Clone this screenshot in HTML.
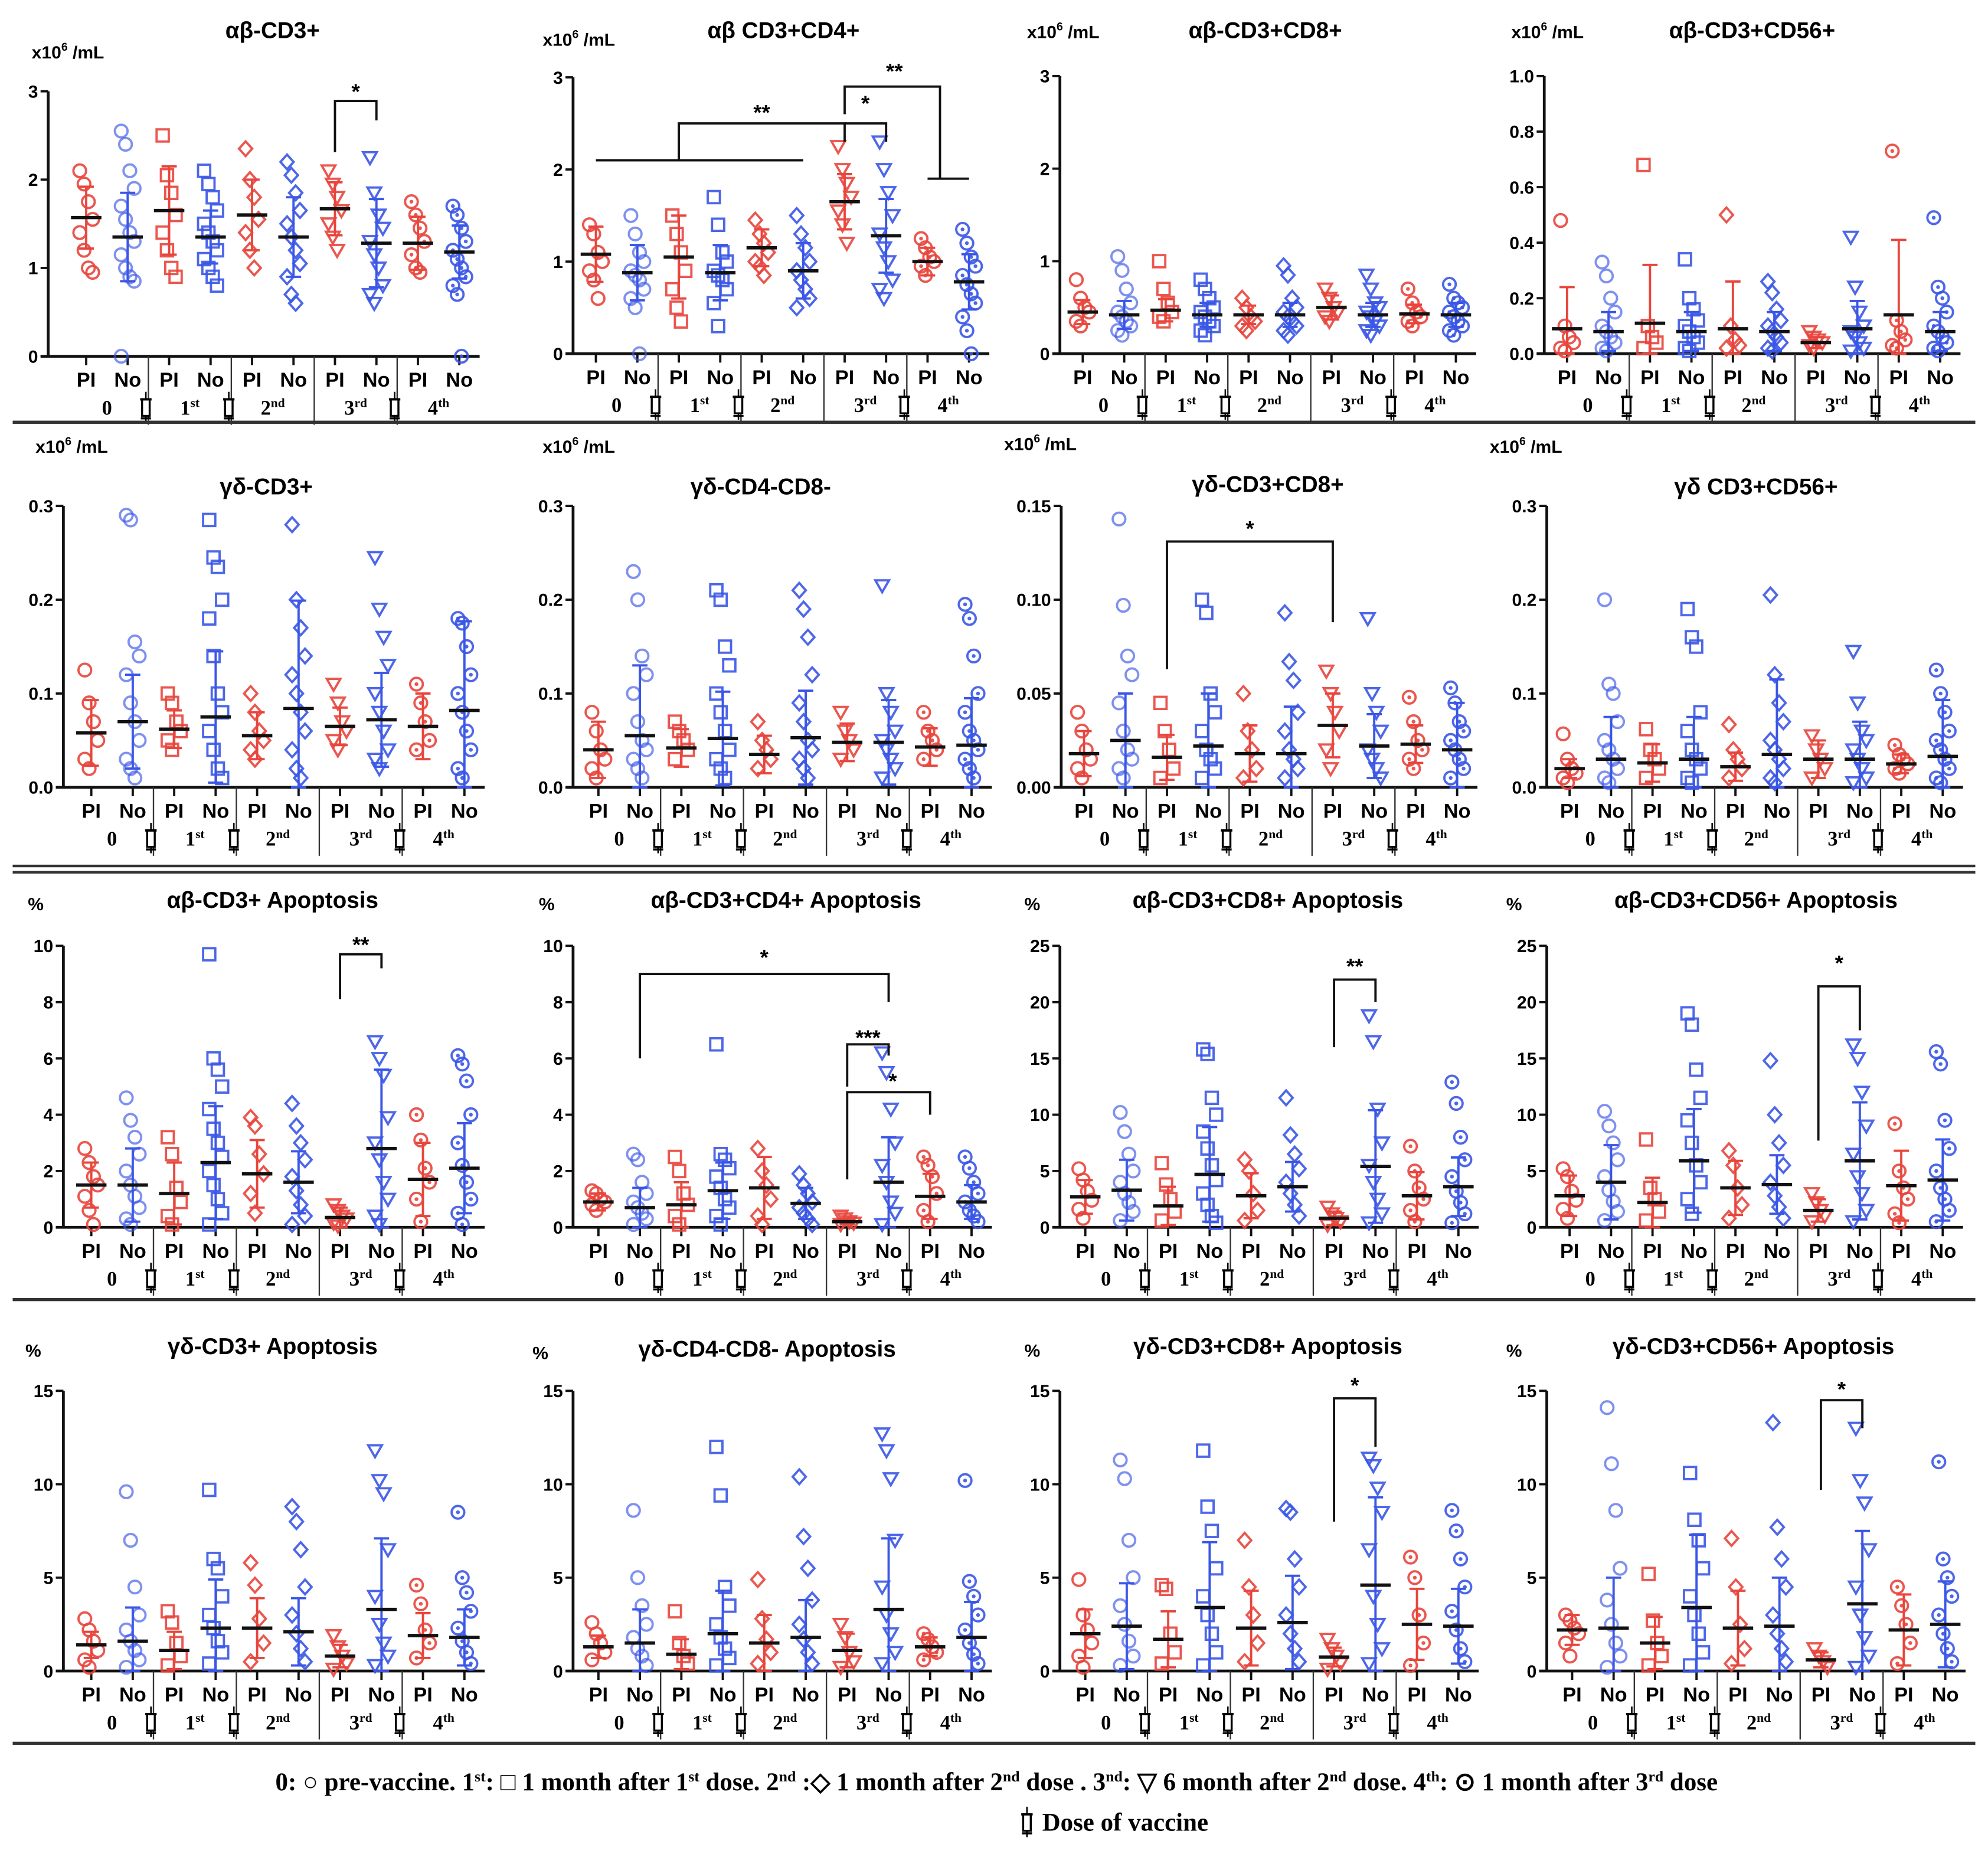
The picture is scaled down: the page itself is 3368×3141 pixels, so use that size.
<!DOCTYPE html>
<html><head><meta charset="utf-8">
<style>
html,body{margin:0;padding:0;background:#fff;}
svg{display:block;}
text{font-family:"Liberation Sans",sans-serif;}
.serif{font-family:"Liberation Serif",serif;}
</style></head>
<body>
<svg id="fig" width="3368" height="3141" viewBox="0 0 1568 1462.3" preserveAspectRatio="none" xmlns="http://www.w3.org/2000/svg"></svg>
<script>
const categories = ['PI','No','PI','No','PI','No','PI','No','PI','No'];
const groupLabels = ['0','1','2','3','4'];
const groupSups = ['','st','nd','rd','th'];

const p1Mean=[1.57,1.35,1.65,1.35,1.6,1.35,1.67,1.28,1.28,1.18];
const p1Sd=[.35,.5,.5,.3,.4,.45,.3,.5,.3,.3];
const p1Pts=[[2.1,1.95,1.75,1.55,1.4,1.2,1.0,0.95],[2.55,2.4,2.1,1.9,1.7,1.55,1.4,1.3,1.15,1.0,0.9,0.85,0],[2.5,2.05,1.85,1.6,1.4,1.2,1.0,0.9],[2.1,1.95,1.8,1.65,1.5,1.4,1.3,1.2,1.1,1.0,0.9,0.8],[2.35,2.0,1.8,1.55,1.4,1.2,1.0],[2.2,2.05,1.85,1.65,1.5,1.35,1.2,1.05,0.9,0.7,0.6],[2.1,1.95,1.8,1.65,1.5,1.35,1.2],[2.25,1.85,1.6,1.45,1.3,1.15,1.0,0.8,0.7,0.6],[1.75,1.6,1.45,1.3,1.15,1.0,0.95],[1.7,1.6,1.45,1.3,1.2,1.1,1.0,0.9,0.8,0.7,0]];
const p2Mean=[1.08,.88,1.05,.88,1.15,.9,1.65,1.28,1.0,.78];
const p2Sd=[.3,.3,.45,.3,.2,.3,.3,.4,.15,.3];
const p2Pts=[[1.4,1.3,1.1,1.0,0.9,0.8,0.6],[1.5,1.3,1.1,1.0,0.9,0.85,0.8,0.7,0.6,0.5,0],[1.5,1.3,1.1,0.9,0.7,0.5,0.35],[1.7,1.4,1.1,1.0,0.9,0.85,0.8,0.7,0.55,0.3],[1.45,1.3,1.2,1.1,1.0,0.95,0.85],[1.5,1.3,1.15,1.0,0.9,0.8,0.7,0.6,0.5],[2.25,2.0,1.85,1.7,1.55,1.4,1.2],[2.3,2.0,1.75,1.5,1.3,1.15,1.0,0.8,0.7,0.6],[1.25,1.15,1.05,1.0,0.95,0.85],[1.35,1.2,1.05,0.95,0.85,0.75,0.65,0.55,0.4,0.25,0]];
const p3Mean=[.45,.42,.47,.42,.42,.42,.5,.42,.43,.42];
const p3Sd=[.13,.15,.12,.13,.1,.13,.13,.13,.1,.13];
const p3Pts=[[0.8,0.6,0.5,0.45,0.35,0.3],[1.05,0.9,0.7,0.55,0.45,0.4,0.35,0.3,0.25,0.2],[1.0,0.7,0.55,0.45,0.4,0.35],[0.8,0.7,0.6,0.5,0.45,0.4,0.35,0.3,0.25,0.2],[0.6,0.5,0.4,0.35,0.3,0.25],[0.95,0.85,0.6,0.5,0.45,0.4,0.35,0.3,0.25,0.2],[0.7,0.6,0.5,0.45,0.4,0.35],[0.85,0.7,0.55,0.5,0.45,0.4,0.35,0.3,0.25,0.2],[0.7,0.55,0.45,0.4,0.35,0.3],[0.75,0.6,0.55,0.5,0.45,0.4,0.35,0.3,0.25,0.2]];
const p4Mean=[.09,.08,.11,.08,.09,.08,.04,.09,.14,.08];
const p4Sd=[.15,.07,.21,.07,.17,.07,.02,.1,.27,.07];
const p4Pts=[[0.48,0.1,0.06,0.04,0.02,0.01],[0.33,0.28,0.2,0.15,0.1,0.08,0.06,0.04,0.02,0.01],[0.68,0.1,0.06,0.04,0.02],[0.34,0.2,0.16,0.12,0.1,0.08,0.06,0.04,0.02,0.01],[0.5,0.1,0.05,0.03,0.02],[0.26,0.22,0.16,0.12,0.1,0.08,0.06,0.04,0.02,0.01],[0.08,0.06,0.05,0.04,0.03,0.02],[0.42,0.24,0.15,0.1,0.08,0.06,0.04,0.02,0.01],[0.73,0.12,0.08,0.05,0.03,0.02],[0.49,0.24,0.2,0.15,0.1,0.08,0.06,0.04,0.02,0.01]];
const p5Mean=[.058,.07,.062,.075,.055,.084,.065,.072,.065,.082];
const p5Sd=[.035,.05,.02,.07,.025,.115,.02,.05,.035,.095];
const p5Pts=[[0.125,0.09,0.07,0.05,0.03,0.02],[0.29,0.285,0.155,0.14,0.12,0.09,0.07,0.05,0.03,0.02,0.01],[0.1,0.09,0.07,0.06,0.05,0.04],[0.285,0.245,0.235,0.2,0.18,0.14,0.1,0.08,0.06,0.04,0.02,0.01],[0.1,0.08,0.06,0.05,0.04,0.03],[0.28,0.2,0.17,0.14,0.12,0.1,0.08,0.06,0.04,0.02,0.01],[0.11,0.09,0.07,0.06,0.05,0.04],[0.245,0.19,0.16,0.13,0.1,0.08,0.06,0.04,0.03,0.02],[0.11,0.09,0.07,0.05,0.04],[0.18,0.175,0.15,0.12,0.1,0.08,0.06,0.04,0.02,0.01]];
const p6Mean=[.04,.055,.042,.052,.035,.053,.048,.048,.043,.045];
const p6Sd=[.03,.075,.02,.05,.02,.05,.02,.045,.02,.05];
const p6Pts=[[0.08,0.06,0.04,0.03,0.02,0.01],[0.23,0.2,0.14,0.12,0.1,0.07,0.05,0.04,0.03,0.02,0.01],[0.07,0.06,0.05,0.04,0.03],[0.21,0.2,0.15,0.13,0.1,0.08,0.06,0.04,0.03,0.02,0.01],[0.07,0.05,0.04,0.03,0.02],[0.21,0.19,0.16,0.12,0.09,0.07,0.05,0.04,0.03,0.02,0.01],[0.08,0.06,0.05,0.04,0.03],[0.215,0.1,0.08,0.06,0.05,0.04,0.03,0.02,0.01],[0.08,0.06,0.05,0.04,0.03],[0.195,0.18,0.14,0.1,0.08,0.06,0.05,0.04,0.03,0.02,0.01]];
const p7Mean=[.018,.025,.016,.022,.018,.018,.033,.022,.023,.02];
const p7Sd=[.012,.025,.012,.028,.015,.025,.017,.017,.01,.025];
const p7Pts=[[0.04,0.03,0.02,0.015,0.01,0.005],[0.143,0.097,0.07,0.06,0.045,0.03,0.02,0.015,0.01,0.005],[0.045,0.03,0.02,0.01,0.005],[0.1,0.093,0.05,0.04,0.03,0.02,0.015,0.01,0.005],[0.05,0.03,0.02,0.01,0.005],[0.093,0.067,0.057,0.04,0.03,0.02,0.015,0.01,0.005],[0.062,0.05,0.04,0.03,0.02,0.01],[0.09,0.05,0.04,0.03,0.02,0.015,0.01,0.005],[0.048,0.035,0.025,0.02,0.015,0.01],[0.053,0.045,0.035,0.03,0.025,0.02,0.015,0.01,0.005]];
const p8Mean=[.02,.03,.026,.03,.022,.035,.03,.03,.025,.033];
const p8Sd=[.01,.045,.02,.045,.015,.08,.02,.04,.01,.06];
const p8Pts=[[0.057,0.03,0.02,0.015,0.01,0.005],[0.2,0.11,0.1,0.07,0.05,0.04,0.03,0.02,0.01,0.005],[0.062,0.04,0.03,0.02,0.01],[0.19,0.16,0.15,0.08,0.06,0.04,0.03,0.02,0.01,0.005],[0.067,0.04,0.03,0.02,0.01],[0.205,0.12,0.09,0.07,0.05,0.04,0.03,0.02,0.01,0.005],[0.055,0.04,0.03,0.02,0.01],[0.145,0.09,0.06,0.05,0.04,0.03,0.02,0.01,0.005],[0.045,0.035,0.03,0.025,0.02,0.015],[0.125,0.1,0.08,0.06,0.05,0.04,0.03,0.02,0.01,0.005]];
const p9Mean=[1.5,1.5,1.2,2.3,1.9,1.6,.35,2.8,1.7,2.1];
const p9Sd=[.8,1.3,1.1,2.0,1.2,1.1,.35,2.8,1.3,1.6];
const p9Pts=[[2.8,2.3,1.8,1.5,1.1,0.6,0.1],[4.6,3.8,3.2,2.6,2.0,1.5,1.1,0.7,0.3,0.1],[3.2,2.6,1.4,0.9,0.4,0.1],[9.7,6.0,5.6,5.0,4.2,3.5,3.0,2.5,2.0,1.5,1.0,0.5,0.1],[3.9,3.6,2.6,1.9,1.2,0.5],[4.4,3.6,3.0,2.4,1.8,1.3,0.8,0.4,0.1],[0.8,0.6,0.4,0.3,0.15,0.05],[6.6,6.0,5.4,3.9,3.0,2.4,1.6,1.0,0.4,0.1],[4.0,3.1,2.1,1.6,1.0,0.2],[6.1,5.8,5.2,4.0,3.0,2.2,1.6,1.0,0.5,0.1]];
const p10Mean=[.9,.7,.8,1.3,1.4,.85,.2,1.6,1.1,.9];
const p10Sd=[.3,.7,.8,1.0,1.1,.55,.1,1.6,.8,.6];
const p10Pts=[[1.3,1.2,1.0,0.9,0.8,0.6],[2.6,2.4,1.6,1.2,0.9,0.7,0.5,0.3,0.1],[2.5,2.0,1.2,0.8,0.4,0.1],[6.5,2.6,2.4,2.1,1.8,1.4,1.0,0.7,0.4,0.1],[2.8,2.0,1.5,1.0,0.4,0.1],[1.9,1.5,1.2,0.9,0.7,0.5,0.3,0.1],[0.4,0.3,0.2,0.15,0.1],[6.2,5.5,4.2,3.0,2.2,1.6,0.9,0.5,0.1],[2.5,2.2,1.8,1.2,0.6,0.2],[2.5,2.1,1.6,1.2,0.9,0.6,0.4,0.2]];
const p11Mean=[2.7,3.3,1.9,4.7,2.8,3.6,.8,5.4,2.8,3.6];
const p11Sd=[1.5,2.7,1.7,4.2,2.0,2.2,.6,5.0,2.1,2.6];
const p11Pts=[[5.2,4.2,3.2,2.4,1.6,0.8],[10.2,8.5,6.5,5.0,4.0,3.0,2.2,1.4,0.6],[5.7,3.8,2.5,1.4,0.6],[15.8,15.4,11.5,10,8.5,7,5.5,4.2,3,2,1,0.4],[6.0,5.0,3.0,1.5,0.6],[11.5,8.2,6.5,5.2,4.0,3.0,2.0,1.0],[1.8,1.2,0.8,0.5,0.2],[18.8,16.5,10.5,7.5,5.5,4.0,2.5,1.2,0.4],[7.2,5.0,3.5,2.5,1.5,0.5],[12.9,11.0,8.0,6.0,4.5,3.2,2.2,1.2,0.4]];
const p12Mean=[2.8,4.0,2.2,5.9,3.5,3.8,1.5,5.9,3.7,4.2];
const p12Sd=[1.8,3.3,2.2,4.6,2.4,2.6,1.0,5.2,3.1,3.6];
const p12Pts=[[5.2,4.5,3.2,2.4,1.6,0.8],[10.3,9.0,7.5,6.0,4.5,3.3,2.3,1.4,0.6],[7.8,3.5,2.5,1.4,0.6],[19.0,18.0,14.0,11.5,9.5,7.5,5.5,4.0,2.5,1.2],[6.8,5.5,3.5,2.0,0.8],[14.8,10.0,7.5,5.5,4.0,2.8,1.8,0.8],[3.0,2.2,1.5,1.0,0.5],[16.2,15.0,12.0,9.0,6.5,4.5,3.0,1.5,0.5],[9.2,5.0,3.5,2.5,1.2,0.4],[15.6,14.5,9.5,7.0,5.0,3.5,2.5,1.5,0.5]];
const p13Mean=[1.4,1.6,1.1,2.3,2.3,2.1,.8,3.3,1.9,1.8];
const p13Sd=[.7,1.8,1.0,2.6,1.6,1.8,.6,3.8,1.2,1.5];
const p13Pts=[[2.8,2.2,1.6,1.1,0.6,0.2],[9.6,7.0,4.5,3.0,2.2,1.6,1.1,0.6,0.2],[3.2,2.6,1.5,0.8,0.3],[9.7,6.0,5.5,4.0,3.0,2.3,1.6,1.0,0.4],[5.8,4.6,2.8,1.5,0.5],[8.8,8.0,6.5,4.5,3.0,2.0,1.2,0.5],[1.9,1.3,0.8,0.4,0.1],[11.8,10.2,9.5,6.5,4.0,2.5,1.5,0.8,0.3],[4.6,3.6,2.2,1.5,0.7],[8.5,5.0,4.2,3.2,2.3,1.6,1.0,0.4]];
const p14Mean=[1.3,1.5,.9,2.0,1.5,1.8,1.1,3.3,1.3,1.8];
const p14Sd=[.6,1.8,.8,2.3,1.5,2.0,.9,3.8,.5,1.9];
const p14Pts=[[2.6,2.0,1.5,1.0,0.6],[8.6,5.0,3.5,2.5,1.8,1.2,0.8,0.3],[3.2,1.5,0.8,0.4],[12.0,9.4,4.5,3.5,2.5,1.8,1.2,0.7,0.3],[4.9,2.8,1.7,1.0,0.4],[10.4,7.2,5.5,3.8,2.5,1.7,1.0,0.4],[2.5,1.8,1.0,0.5,0.2],[12.7,11.8,10.3,7.0,4.5,3.0,2.0,1.0,0.4],[2.0,1.7,1.3,1.0,0.6],[10.2,4.8,4.0,3.0,2.2,1.5,0.9,0.4]];
const p15Mean=[2.0,2.4,1.7,3.4,2.3,2.6,.75,4.6,2.5,2.4];
const p15Sd=[1.3,2.3,1.5,3.5,2.0,2.5,.5,4.7,1.9,2.0];
const p15Pts=[[4.9,3.0,2.2,1.5,0.8,0.2],[11.3,10.3,7.0,5.0,3.5,2.5,1.6,0.8,0.3],[4.6,4.4,2.0,1.0,0.4],[11.8,8.8,7.5,5.5,4.0,3.0,2.0,1.0,0.3],[7.0,4.5,3.0,1.5,0.5],[8.7,8.5,6.0,4.5,3.0,2.0,1.2,0.5],[1.7,1.2,0.8,0.4,0.1],[11.4,11.0,9.8,8.5,6.5,4.0,2.5,1.2,0.4],[6.1,5.0,3.0,1.5,0.3],[8.6,7.5,6.0,4.5,3.2,2.2,1.2,0.5]];
const p16Mean=[2.2,2.3,1.5,3.4,2.3,2.4,.6,3.6,2.2,2.5];
const p16Sd=[.8,2.7,1.4,3.9,2.0,2.6,.4,3.9,1.9,2.3];
const p16Pts=[[3.0,2.7,2.3,2.0,1.5,0.8],[14.1,11.1,8.6,5.5,3.8,2.5,1.5,0.8,0.2],[5.2,2.7,1.5,0.8,0.3],[10.6,8.1,7.0,5.5,4.0,3.0,2.0,1.0,0.3],[7.1,4.5,2.5,1.2,0.4],[13.3,7.7,6.0,4.5,3.0,2.0,1.2,0.5],[1.2,0.8,0.5,0.2],[13.0,10.2,9.0,6.5,4.5,3.0,1.8,0.8,0.2],[4.5,3.5,2.5,1.5,0.4],[11.2,6.0,5.0,4.0,3.0,2.0,1.2,0.5]];

const t3=['0','1','2','3'], t1=['0.0','0.2','0.4','0.6','0.8','1.0'], t03=['0.0','0.1','0.2','0.3'], t015=['0.00','0.05','0.10','0.15'], t10=['0','2','4','6','8','10'], t25=['0','5','10','15','20','25'], t15=['0','5','10','15'];

const NS='http://www.w3.org/2000/svg';
const svg=document.getElementById('fig');
function el(tag,attrs,parent,txt){const e=document.createElementNS(NS,tag);for(const k in attrs)e.setAttribute(k,attrs[k]);if(txt!==undefined)e.textContent=txt;(parent||svg).appendChild(e);return e;}

const RED='#e8453c', BLUE='#3a56e6';
function marker(g,shape,x,y,col,op){
  const a={fill:'none',stroke:col,'stroke-width':1.8,opacity:op};
  let m;
  if(shape===0){m=el('circle',Object.assign({cx:x,cy:y,r:5},a),g);}
  else if(shape===1){m=el('rect',Object.assign({x:x-4.8,y:y-4.8,width:9.6,height:9.6},a),g);}
  else if(shape===2){m=el('polygon',Object.assign({points:`${x},${y-5.8} ${x+5.2},${y} ${x},${y+5.8} ${x-5.2},${y}`},a),g);}
  else if(shape===3){m=el('polygon',Object.assign({points:`${x-5.4},${y-4.2} ${x+5.4},${y-4.2} ${x},${y+5.2}`},a),g);}
  else {m=el('circle',Object.assign({cx:x,cy:y,r:5},a),g);el('circle',{cx:x,cy:y,r:1.5,fill:col,opacity:op},g);}
  
  
}
function syringe(g,x,y){
  const s=el('g',{},g);
  
  
  el('line',{x1:x,y1:y-12,x2:x,y2:y+12,stroke:'#000','stroke-width':1.2},s);
  el('rect',{x:x-3,y:y-6,width:6,height:13,fill:'#fff',stroke:'#000','stroke-width':1.6},s);
  el('line',{x1:x-4.5,y1:y-6,x2:x+4.5,y2:y-6,stroke:'#000','stroke-width':1.8},s);
  el('line',{x1:x-4,y1:y+9,x2:x+4,y2:y+9,stroke:'#000','stroke-width':1.6},s);
}

const panels=[
 {name:'ab-cd3',title:'αβ-CD3+',tx:215,ty:30,unit:'x10',ux:25,uy:46,x0:38,off:30,yTop:72,yBot:281,ymax:3,ticks:t3,mean:p1Mean,sd:p1Sd,pts:p1Pts,
  br:[{p:[[6,2.31],[6,2.89],[7,2.89],[7,2.67]],l:'*',lx:6.5,ly:3.0}]},
 {name:'ab-cd4',title:'αβ CD3+CD4+',tx:618,ty:30,unit:'x10',ux:428,uy:36,x0:452,off:18,yTop:61,yBot:279,ymax:3,ticks:t3,mean:p2Mean,sd:p2Sd,pts:p2Pts,
  br:[{p:[[0,2.1],[5,2.1]]},{p:[[2,2.1],[2,2.5],[6,2.5],[6,2.3]],l:'**',lx:4,ly:2.62},{p:[[6,2.5],[7,2.5],[7,2.3]],l:'*',lx:6.5,ly:2.72},{p:[[6,2.6],[6,2.9],[8.3,2.9],[8.3,1.9]],l:'**',lx:7.2,ly:3.07},{p:[[8,1.9],[9,1.9]]}]},
 {name:'ab-cd8',title:'αβ-CD3+CD8+',tx:998,ty:30,unit:'x10',ux:810,uy:30,x0:836,off:18,yTop:60,yBot:279,ymax:3,ticks:t3,mean:p3Mean,sd:p3Sd,pts:p3Pts,br:[]},
 {name:'ab-cd56',title:'αβ-CD3+CD56+',tx:1382,ty:30,unit:'x10',ux:1192,uy:30,x0:1218,off:18,yTop:60,yBot:279,ymax:1,ticks:t1,mean:p4Mean,sd:p4Sd,pts:p4Pts,br:[]},
 {name:'gd-cd3',title:'γδ-CD3+',tx:210,ty:390,unit:'x10',ux:28,uy:357,x0:50,off:22,yTop:399,yBot:621,ymax:0.3,ticks:t03,mean:p5Mean,sd:p5Sd,pts:p5Pts,br:[]},
 {name:'gd-dn',title:'γδ-CD4-CD8-',tx:600,ty:390,unit:'x10',ux:428,uy:357,x0:452,off:20,yTop:399,yBot:621,ymax:0.3,ticks:t03,mean:p6Mean,sd:p6Sd,pts:p6Pts,br:[]},
 {name:'gd-cd8',title:'γδ-CD3+CD8+',tx:1000,ty:388,unit:'x10',ux:792,uy:355,x0:837,off:18,yTop:399,yBot:621,ymax:0.15,ticks:t015,mean:p7Mean,sd:p7Sd,pts:p7Pts,
  br:[{p:[[2,0.063],[2,0.131],[6,0.131],[6,0.088]],l:'*',lx:4,ly:0.138}]},
 {name:'gd-cd56',title:'γδ CD3+CD56+',tx:1385,ty:390,unit:'x10',ux:1175,uy:357,x0:1220,off:18,yTop:399,yBot:621,ymax:0.3,ticks:t03,mean:p8Mean,sd:p8Sd,pts:p8Pts,br:[]},
 {name:'ab-cd3-apop',title:'αβ-CD3+ Apoptosis',tx:215,ty:716,unit:'%',ux:22,uy:718,x0:50,off:22,yTop:746,yBot:968,ymax:10,ticks:t10,mean:p9Mean,sd:p9Sd,pts:p9Pts,
  br:[{p:[[6,8.1],[6,9.7],[7,9.7],[7,9.2]],l:'**',lx:6.5,ly:10.05}]},
 {name:'ab-cd4-apop',title:'αβ-CD3+CD4+ Apoptosis',tx:620,ty:716,unit:'%',ux:425,uy:718,x0:452,off:20,yTop:746,yBot:968,ymax:10,ticks:t10,mean:p10Mean,sd:p10Sd,pts:p10Pts,
  br:[{p:[[1,6.0],[1,9.0],[7,9.0],[7,8.0]],l:'*',lx:4,ly:9.6},{p:[[6,5.0],[6,6.5],[7,6.5],[7,6.1]],l:'***',lx:6.5,ly:6.75},{p:[[6,1.7],[6,4.8],[8,4.8],[8,4.0]],l:'*',lx:7.1,ly:5.2}]},
 {name:'ab-cd8-apop',title:'αβ-CD3+CD8+ Apoptosis',tx:1000,ty:716,unit:'%',ux:808,uy:718,x0:836,off:20,yTop:746,yBot:968,ymax:25,ticks:t25,mean:p11Mean,sd:p11Sd,pts:p11Pts,
  br:[{p:[[6,16],[6,22],[7,22],[7,20]],l:'**',lx:6.5,ly:23.2}]},
 {name:'ab-cd56-apop',title:'αβ-CD3+CD56+ Apoptosis',tx:1385,ty:716,unit:'%',ux:1188,uy:718,x0:1220,off:18,yTop:746,yBot:968,ymax:25,ticks:t25,mean:p12Mean,sd:p12Sd,pts:p12Pts,
  br:[{p:[[6,7.7],[6,21.4],[7,21.4],[7,17.5]],l:'*',lx:6.5,ly:23.5}]},
 {name:'gd-cd3-apop',title:'γδ-CD3+ Apoptosis',tx:215,ty:1068,unit:'%',ux:20,uy:1070,x0:50,off:22,yTop:1097,yBot:1318,ymax:15,ticks:t15,mean:p13Mean,sd:p13Sd,pts:p13Pts,br:[]},
 {name:'gd-dn-apop',title:'γδ-CD4-CD8- Apoptosis',tx:605,ty:1070,unit:'%',ux:420,uy:1072,x0:452,off:20,yTop:1097,yBot:1318,ymax:15,ticks:t15,mean:p14Mean,sd:p14Sd,pts:p14Pts,br:[]},
 {name:'gd-cd8-apop',title:'γδ-CD3+CD8+ Apoptosis',tx:1000,ty:1068,unit:'%',ux:808,uy:1070,x0:836,off:20,yTop:1097,yBot:1318,ymax:15,ticks:t15,mean:p15Mean,sd:p15Sd,pts:p15Pts,
  br:[{p:[[6,8],[6,14.6],[7,14.6],[7,12]],l:'*',lx:6.5,ly:15.3}]},
 {name:'gd-cd56-apop',title:'γδ-CD3+CD56+ Apoptosis',tx:1383,ty:1068,unit:'%',ux:1188,uy:1070,x0:1220,off:20,yTop:1097,yBot:1318,ymax:15,ticks:t15,mean:p16Mean,sd:p16Sd,pts:p16Pts,
  br:[{p:[[6,9.7],[6,14.5],[7,14.5],[7,13]],l:'*',lx:6.5,ly:15.1}]}
];

const SP=32.7;
panels.forEach(P=>{
  const g=el('g',{});
  
  
  const X=i=>P.x0+P.off+i*SP;
  const Y=v=>P.yBot-(v/P.ymax)*(P.yBot-P.yTop);
  const xEnd=X(9)+16;
  const t=el('text',{x:P.tx,y:P.ty,'text-anchor':'middle','font-size':18,'font-weight':'bold'},g,P.title);
  
  
  const u=el('text',{x:P.ux,y:P.uy,'font-size':14,'font-weight':'bold'},g,P.unit);
  
  
  if(P.unit!=='%'){el('tspan',{dy:-6,'font-size':9},u,'6');el('tspan',{dy:6,'font-size':14},u,' /mL');}
  const ya=el('line',{x1:P.x0,y1:P.yTop,x2:P.x0,y2:P.yBot,stroke:'#111','stroke-width':2.2},g);
  
  
  const xa=el('line',{x1:P.x0-6,y1:P.yBot,x2:xEnd,y2:P.yBot,stroke:'#111','stroke-width':2.2},g);
  
  
  const n=P.ticks.length-1;
  P.ticks.forEach((tk,i)=>{
    const v=P.ymax*i/n, y=Y(v);
    el('line',{x1:P.x0-6,y1:y,x2:P.x0,y2:y,stroke:'#111','stroke-width':1.8},g);
    const tl=el('text',{x:P.x0-8,y:y+5,'text-anchor':'end','font-size':14,'font-weight':'bold'},g,tk);
    
    
  });
  categories.forEach((c,i)=>{
    const x=X(i);
    el('line',{x1:x,y1:P.yBot,x2:x,y2:P.yBot+7,stroke:'#111','stroke-width':1.8},g);
    const cl=el('text',{x:x,y:P.yBot+24,'text-anchor':'middle','font-size':16,'font-weight':'bold'},g,c);
    
    
  });
  const bottom=P.yBot+54;
  for(let k=0;k<5;k++){
    const cx=(X(2*k)+X(2*k+1))/2;
    const gl=el('text',{x:cx,y:P.yBot+46,'text-anchor':'middle','font-size':16,'font-weight':'bold',class:'serif'},g,groupLabels[k]);
    
    
    if(groupSups[k])el('tspan',{dy:-6,'font-size':10},gl,groupSups[k]);
    if(k<4){
      const bx=X(2*k+1)+SP/2;
      el('line',{x1:bx,y1:P.yBot,x2:bx,y2:bottom,stroke:'#333','stroke-width':1.1},g);
      if(k===0||k===1||k===3) syringe(g,bx-2,P.yBot+40);
    }
  }
  for(let i=0;i<10;i++){
    const col=i%2===0?RED:BLUE;
    const shape=Math.floor(i/2);
    const op=(i===1)?0.65:0.9;
    const x=X(i);
    const pts=P.pts[i];
    pts.forEach((v,j)=>{
      const dx=((j%4)-1.5)*3.4;
      marker(g,shape,x+dx,Y(v),col,op);
    });
    const m=P.mean[i], s=P.sd[i];
    const lo=Math.max(0,m-s), hi=m+s;
    const eb=el('line',{x1:x,y1:Y(lo),x2:x,y2:Y(hi),stroke:col,'stroke-width':1.8},g);
    
    
    el('line',{x1:x-6,y1:Y(hi),x2:x+6,y2:Y(hi),stroke:col,'stroke-width':1.8},g);
    el('line',{x1:x-6,y1:Y(lo),x2:x+6,y2:Y(lo),stroke:col,'stroke-width':1.8},g);
    const ml=el('line',{x1:x-12,y1:Y(m),x2:x+12,y2:Y(m),stroke:'#111','stroke-width':2.6},g);
    
    
  }
  P.br.forEach(b=>{
    const pl=el('polyline',{points:b.p.map(q=>X(q[0])+','+Y(q[1])).join(' '),fill:'none',stroke:'#111','stroke-width':1.8},g);
    
    
    if(b.l){
      const sl=el('text',{x:X(b.lx),y:Y(b.ly)+6,'text-anchor':'middle','font-size':17,'font-weight':'bold'},g,b.l);
      
      
    }
  });
});
[[333,2.5],[683,2],[688,2],[1025,2.5],[1375,2.5]].forEach(s=>{
  const l=el('line',{x1:10,y1:s[0],x2:1558,y2:s[0],stroke:'#333','stroke-width':s[1]});
  
  
});
const lg=el('g',{});


const lt=el('text',{x:786,y:1412,'text-anchor':'middle','font-size':20,'font-weight':'bold',class:'serif'},lg);
lt.innerHTML='0: ○ pre-vaccine.   1<tspan dy="-7" font-size="12">st</tspan><tspan dy="7">: □ 1 month after 1</tspan><tspan dy="-7" font-size="12">st</tspan><tspan dy="7"> dose.   2</tspan><tspan dy="-7" font-size="12">nd</tspan><tspan dy="7"> :◇ 1 month after 2</tspan><tspan dy="-7" font-size="12">nd</tspan><tspan dy="7"> dose . 3</tspan><tspan dy="-7" font-size="12">nd</tspan><tspan dy="7">:  ▽ 6 month after 2</tspan><tspan dy="-7" font-size="12">nd</tspan><tspan dy="7"> dose. 4</tspan><tspan dy="-7" font-size="12">th</tspan><tspan dy="7">: ⊙ 1 month after 3</tspan><tspan dy="-7" font-size="12">rd</tspan><tspan dy="7"> dose</tspan>';
syringe(lg,810,1437);
el('text',{x:822,y:1444,'font-size':20,'font-weight':'bold',class:'serif'},lg,'Dose of vaccine');
</script>
</body></html>
